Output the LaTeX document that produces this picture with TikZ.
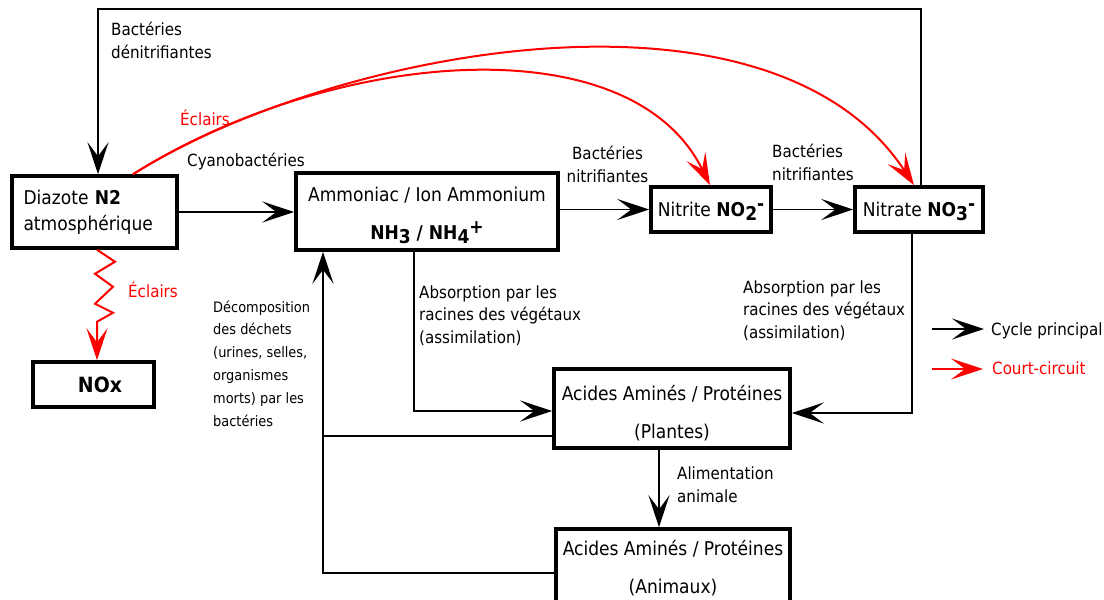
\documentclass[tikz,border=0pt]{standalone}
\usepackage{fontspec}
\setmainfont{DejaVu Sans Condensed}
\usetikzlibrary{arrows.meta}
\definecolor{cred}{RGB}{255,0,0}
\tikzset{
  box/.style={draw, line width=3.5pt, inner sep=0pt, align=center, font=\fontsize{19}{23}\selectfont},
  tip/.style={-{Stealth[length=32pt,width=21pt,inset=14pt]}},
  conn/.style={line width=1.8pt, tip},
  plain/.style={line width=1.8pt},
  shortc/.style={line width=2pt, cred, tip},
  lbl/.style={inner sep=0pt, align=left, font=\fontsize{16.8}{22.5}\selectfont},
  small/.style={inner sep=0pt, align=left, font=\fontsize{14.4}{22.8}\selectfont},
}
\newcommand{\lowr}[1]{\raisebox{-4pt}[0pt][0pt]{#1}}
\newcommand{\highr}[1]{\raisebox{6pt}[0pt][0pt]{#1}}
\newcommand{\tallr}[1]{\rule{0pt}{#1}}
\begin{document}
\begin{tikzpicture}[x=1pt,y=-1pt]
\useasboundingbox (0,0) rectangle (1104,600);

% boxes
\node[box, minimum width=165pt, minimum height=72pt, align=left, text width=142pt] (diaz) at (94.5,212)
  {Diazote \textbf{N2}\\[3pt]atmosphérique};
\node[box, minimum width=121pt, minimum height=45pt] (nox) at (93.5,384.5)
  {\hspace*{13pt}\fontsize{21}{24}\selectfont\textbf{NOx}};
\node[box, minimum width=262pt, minimum height=77pt] (nh3) at (427,211.5)
  {\tallr{20pt}Ammoniac / Ion Ammonium\\[15pt]\textbf{NH\lowr{3} / NH\lowr{4}\highr{+}}};
\node[box, minimum width=120pt, minimum height=45pt] (nitrite) at (711,209.5)
  {Nitrite \textbf{NO\lowr{2}\highr{-}}};
\node[box, minimum width=128pt, minimum height=45pt] (nitrate) at (919,209.5)
  {Nitrate \textbf{NO\lowr{3}\highr{-}}};
\node[box, minimum width=236pt, minimum height=79pt] (plants) at (672,408.5)
  {\tallr{24pt}Acides Aminés / Protéines\\[15pt](Plantes)};
\node[box, minimum width=234pt, minimum height=79pt] (animals) at (673,568.5)
  {Acides Aminés / Protéines\\[15pt](Animaux)};

% main connectors
\draw[conn] (diaz.east) -- (diaz.east -| nh3.west);
\draw[conn] (nh3.east |- nitrite.west) -- (nitrite.west);
\draw[conn] (nitrite.east) -- (nitrite.east -| nitrate.west);

\coordinate (a1) at (414,411);
\draw[conn] (a1 |- nh3.south) -- (a1) -- (a1 -| plants.west);
\coordinate (a2) at (912,413);
\draw[conn] (a2 |- nitrate.south) -- (a2) -- (a2 -| plants.east);
\draw[conn] ([xshift=-13pt]plants.south) -- ([xshift=-13pt]plants.south |- animals.north);
\coordinate (a4) at (323,573);
\draw[conn] (a4 -| animals.west) -- (a4) -- (a4 |- nh3.south);
\coordinate (a5) at (323,436);
\draw[plain] (a5 -| plants.west) -- (a5);
\coordinate (a6) at (921,9);
\coordinate (a7) at (98,9);
\draw[conn, line width=1.6pt] (a6 |- nitrate.north) -- (a6) -- (a7) -- (a7 |- diaz.north);

% short circuits
\draw[shortc] ([xshift=38.5pt]diaz.north) .. controls (330,50) and (630,22) .. ([xshift=-1pt]nitrite.north);
\draw[shortc] ([xshift=38.5pt]diaz.north) .. controls (330,50) and (770,-35) .. ([xshift=-5pt]nitrate.north);
\draw[shortc] ([xshift=2.5pt]diaz.south) -- ++(18,12) -- ++(-20,12) -- ++(18,13) -- ++(-18,17) -- ++(18,9) -- ++(-16,9) -- ([xshift=3.5pt]nox.north);

% labels (base = baseline of last line)
\node[lbl, anchor=base west] (l1) at (111,58) {Bactéries\\dénitrifiantes};
\node[lbl, anchor=base west, text=cred] (l2) at (180,125) {Éclairs};
\node[lbl, anchor=base west] (l3) at (187,166) {Cyanobactéries};
\node[lbl, anchor=base, align=center] (l4) at (607.5,182) {Bactéries\\nitrifiantes};
\node[lbl, anchor=base west] (l5) at (772,180) {Bactéries\\nitrifiantes};
\node[lbl, anchor=base west, text=cred] (l6) at (128,297) {Éclairs};
\node[small, anchor=base west] (l7) at (213,426) {Décomposition\\des déchets\\(urines, selles,\\organismes\\morts) par les\\bactéries};
\node[lbl, anchor=base west] (l8) at (419,343) {Absorption par les\\racines des végétaux\\(assimilation)};
\node[lbl, anchor=base west] (l9) at (743,338) {Absorption par les\\racines des végétaux\\(assimilation)};
\node[lbl, anchor=base west] (l10) at (677,502) {Alimentation\\animale};

% legend
\node[lbl, anchor=base west] (leg1) at (991,335) {Cycle principal};
\node[lbl, anchor=base west, text=cred] (leg2) at (992,374) {Court-circuit};
\coordinate (g1) at (932,329);
\coordinate (g2) at (932,369);
\draw[conn] (g1) -- ([xshift=-7pt]leg1.west |- g1);
\draw[shortc] (g2) -- ([xshift=-9pt]leg2.west |- g2);
\end{tikzpicture}
\end{document}
